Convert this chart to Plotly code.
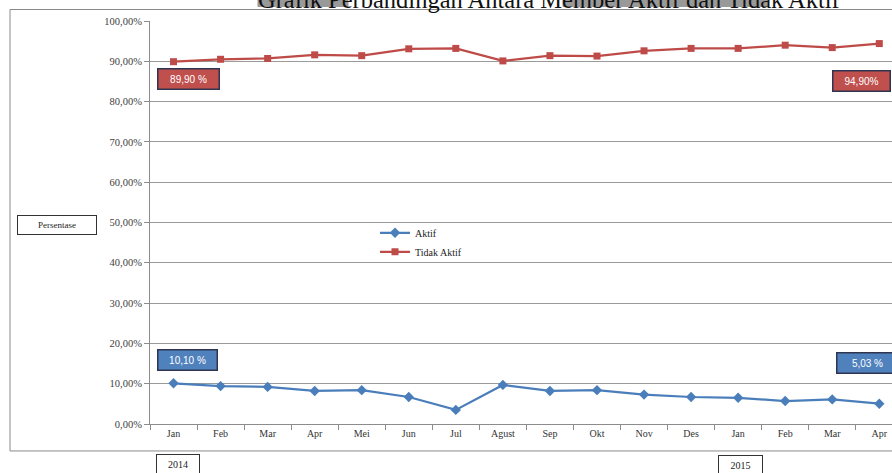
import plotly.graph_objects as go

months = ["Jan", "Feb", "Mar", "Apr", "Mei", "Jun", "Jul", "Agust", "Sep", "Okt", "Nov", "Des",
          "Jan", "Feb", "Mar", "Apr"]
years = ["2014"] * 12 + ["2015"] * 4
periods = [f"{m} {y}" for m, y in zip(months, years)]

aktif = [10.1, 9.4, 9.2, 8.2, 8.4, 6.7, 3.5, 9.7, 8.2, 8.4, 7.3, 6.7, 6.5, 5.7, 6.1, 5.03]
tidak_aktif = [89.9, 90.5, 90.7, 91.6, 91.4, 93.1, 93.2, 90.1, 91.4, 91.3, 92.6, 93.2, 93.2, 94.0, 93.4, 94.4]

y_ticks = [0, 10, 20, 30, 40, 50, 60, 70, 80, 90, 100]
y_ticktext = ["0,00%", "10,00%", "20,00%", "30,00%", "40,00%", "50,00%",
              "60,00%", "70,00%", "80,00%", "90,00%", "100,00%"]

label_aktif_first = "10,10 %"
label_aktif_last = "5,03 %"
label_tidak_first = "89,90 %"
label_tidak_last = "94,90%"

title_text = "Grafik Perbandingan Antara Member Aktif dan Tidak Aktif"

BLUE = "#4a7ebb"
RED = "#be4b48"
SERIF = "Liberation Serif"

fig = go.Figure()
fig.add_trace(go.Scatter(
    x=periods, y=aktif, name="Aktif", mode="lines+markers",
    line=dict(color=BLUE, width=2.25),
    marker=dict(symbol="diamond", size=8, color=BLUE),
))
fig.add_trace(go.Scatter(
    x=periods, y=tidak_aktif, name="Tidak Aktif", mode="lines+markers",
    line=dict(color=RED, width=2.25),
    marker=dict(symbol="square", size=7, color=RED),
))

L, T, B = 150, 20.5, 49
W, H = 892, 473
PW = W - L
PH = H - T - B


def px(xp):
    return (xp - L) / PW


def py(yp):
    return (H - B - yp) / PH


fig.update_layout(
    width=W, height=H,
    margin=dict(l=L, r=0, t=T, b=B, pad=0),
    paper_bgcolor="white", plot_bgcolor="white",
    font=dict(family=SERIF, size=11, color="#404040"),
    showlegend=True,
    legend=dict(
        x=px(375), y=py(218), xanchor="left", yanchor="top",
        bgcolor="rgba(0,0,0,0)", font=dict(family=SERIF, size=10, color="#222"),
        itemwidth=30, tracegroupgap=0,
    ),
    xaxis=dict(
        type="category", categoryorder="array", categoryarray=periods,
        tickmode="array", tickvals=periods, ticktext=months,
        range=[-0.5, 15.27],
        showgrid=False, showline=True, linecolor="#8c8c8c", linewidth=1,
        ticks="outside", tickson="boundaries", ticklen=5, tickcolor="#8c8c8c",
        tickfont=dict(family=SERIF, size=10, color="#333"),
        zeroline=False,
    ),
    yaxis=dict(
        range=[0, 100], tickmode="array", tickvals=y_ticks, ticktext=y_ticktext,
        showgrid=True, gridcolor="#9a9a9a", gridwidth=1,
        showline=True, linecolor="#8c8c8c", linewidth=1,
        ticks="outside", ticklen=5, tickcolor="#8c8c8c",
        tickfont=dict(family=SERIF, size=10.5, color="#404040"),
        zeroline=False,
    ),
)

shapes = [
    # outer chart border
    dict(type="rect", xref="paper", yref="paper",
         x0=px(10), x1=px(900), y0=py(451), y1=py(9),
         line=dict(color="#8a8a8a", width=1), fillcolor="rgba(0,0,0,0)", layer="below"),
    # title highlight boxes
    dict(type="rect", xref="paper", yref="paper",
         x0=px(258), x1=px(348), y0=py(6), y1=py(-2),
         line=dict(color="#999999", width=1), fillcolor="#999999", layer="above"),
    dict(type="rect", xref="paper", yref="paper",
         x0=px(563), x1=px(767), y0=py(6), y1=py(-2),
         line=dict(color="#999999", width=1), fillcolor="#999999", layer="above"),
]
fig.update_layout(shapes=shapes)

annotations = [
    dict(text=title_text, xref="paper", yref="paper", x=px(549), y=py(-1),
         xanchor="center", yanchor="middle", showarrow=False,
         font=dict(family=SERIF, size=24.5, color="#111")),
    dict(text="Persentase", xref="paper", yref="paper", x=px(57), y=py(224.5),
         xanchor="center", yanchor="middle", showarrow=False,
         width=76, height=16, bgcolor="white", bordercolor="#333", borderwidth=1, borderpad=1,
         font=dict(family=SERIF, size=9, color="#222")),
    dict(text=years[0], xref="paper", yref="paper", x=px(178), y=py(464),
         xanchor="center", yanchor="middle", showarrow=False,
         width=40, height=16, bgcolor="white", bordercolor="#333", borderwidth=1, borderpad=1,
         font=dict(family=SERIF, size=10, color="#222")),
    dict(text=years[-1], xref="paper", yref="paper", x=px(740), y=py(465),
         xanchor="center", yanchor="middle", showarrow=False,
         width=41, height=16, bgcolor="white", bordercolor="#333", borderwidth=1, borderpad=1,
         font=dict(family=SERIF, size=10, color="#222")),
    dict(text=label_tidak_first, xref="x", yref="y", x=periods[0], y=tidak_aktif[0],
         xshift=15, yshift=-17, showarrow=False, width=58, height=17,
         bgcolor="#c0504d", bordercolor="#2f3550", borderwidth=1.5, borderpad=1,
         font=dict(family="Liberation Sans", size=10, color="white")),
    dict(text=label_tidak_last, xref="x", yref="y", x=periods[-1], y=tidak_aktif[-1],
         xshift=-18, yshift=-37, showarrow=False, width=54, height=17,
         bgcolor="#c0504d", bordercolor="#2f3550", borderwidth=1.5, borderpad=1,
         font=dict(family="Liberation Sans", size=10, color="white")),
    dict(text=label_aktif_first, xref="x", yref="y", x=periods[0], y=aktif[0],
         xshift=14, yshift=23, showarrow=False, width=56, height=17,
         bgcolor="#4f81bd", bordercolor="#2f3550", borderwidth=1.5, borderpad=1,
         font=dict(family="Liberation Sans", size=10, color="white")),
    dict(text=label_aktif_last, xref="x", yref="y", x=periods[-1], y=aktif[-1],
         xshift=-12, yshift=41, showarrow=False, width=58, height=17,
         bgcolor="#4f81bd", bordercolor="#2f3550", borderwidth=1.5, borderpad=1,
         font=dict(family="Liberation Sans", size=10, color="white")),
]
fig.update_layout(annotations=annotations)

fig.write_html(
    "out.html",
    config={"displayModeBar": False},
    post_script="document.body.style.margin='0';document.body.style.overflow='hidden';",
)
